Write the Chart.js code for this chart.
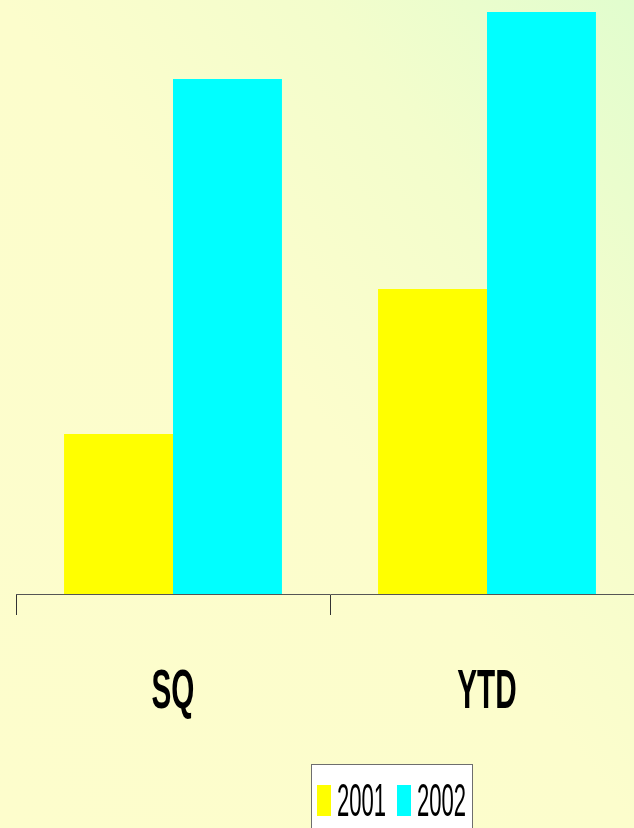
<!DOCTYPE html>
<html>
<head>
<meta charset="utf-8">
<script src="https://cdn.jsdelivr.net/npm/chart.js@4/dist/chart.umd.min.js"></script>
<style>
  html, body {
    margin: 0;
    width: 634px;
    height: 828px;
    overflow: hidden;
  }
  body {
    background: linear-gradient(to bottom left, #e1fdce 0%, #f3fdcc 25%, #fcfdcc 50%, #fdfdcc 100%);
  }
  canvas { display: block; }
</style>
</head>
<body>
<canvas id="chart" width="660" height="828"></canvas>
<script>
// Chart data
const categories = ["SQ", "YTD"];
const series2001 = [16.0, 30.5];
const series2002 = [51.5, 58.2];
const seriesNames = ["2001", "2002"];
const seriesColors = ["#ffff00", "#00ffff"];

// Draws the narrow bold category labels and the boxed legend
const narrowTextPlugin = {
  id: "narrowText",
  afterDraw(chart) {
    const ctx = chart.ctx;
    const xScale = chart.scales.x;

    // category labels
    ctx.save();
    ctx.fillStyle = "#000";
    ctx.textAlign = "center";
    ctx.textBaseline = "alphabetic";
    ctx.font = "bold 56px 'Liberation Sans', Arial, sans-serif";
    categories.forEach((label, i) => {
      const x = xScale.getPixelForValue(i);
      ctx.save();
      ctx.translate(x, 708);
      ctx.scale(0.53, 1);
      ctx.fillText(label, 0, 0);
      ctx.restore();
    });
    ctx.restore();

    // legend box
    ctx.save();
    ctx.fillStyle = "#ffffff";
    ctx.fillRect(311, 764, 162, 80);
    ctx.strokeStyle = "#6e6e6e";
    ctx.lineWidth = 1;
    ctx.strokeRect(311.5, 764.5, 161, 80);

    let x = 317;
    ctx.font = "47px 'Liberation Sans', Arial, sans-serif";
    ctx.textBaseline = "alphabetic";
    chart.data.datasets.forEach((ds) => {
      ctx.fillStyle = ds.backgroundColor;
      ctx.fillRect(x, 785, 14, 31);
      ctx.fillStyle = "#000";
      ctx.save();
      ctx.translate(x + 20, 816);
      ctx.scale(0.47, 1);
      ctx.fillText(ds.label, 0, 0);
      ctx.restore();
      x += 80;
    });
    ctx.restore();
  },
};

const chart = new Chart(document.getElementById("chart").getContext("2d"), {
  type: "bar",
  data: {
    labels: categories,
    datasets: [
      {
        label: seriesNames[0],
        data: series2001,
        backgroundColor: seriesColors[0],
        borderWidth: 0,
      },
      {
        label: seriesNames[1],
        data: series2002,
        backgroundColor: seriesColors[1],
        borderWidth: 0,
      },
    ],
  },
  options: {
    responsive: false,
    animation: false,
    layout: {
      padding: { left: 16, right: 16, top: 0, bottom: 213 },
    },
    categoryPercentage: 0.694,
    barPercentage: 1.0,
    plugins: {
      legend: { display: false },
      tooltip: { enabled: false },
    },
    scales: {
      x: {
        grid: {
          offset: true,
          drawOnChartArea: false,
          drawTicks: true,
          tickLength: 21,
          color: "#333",
        },
        border: { display: true, color: "#555", width: 1 },
        ticks: { display: false },
      },
      y: {
        display: false,
        min: 0,
        max: 59.4,
      },
    },
  },
  plugins: [narrowTextPlugin],
});
</script>
</body>
</html>
